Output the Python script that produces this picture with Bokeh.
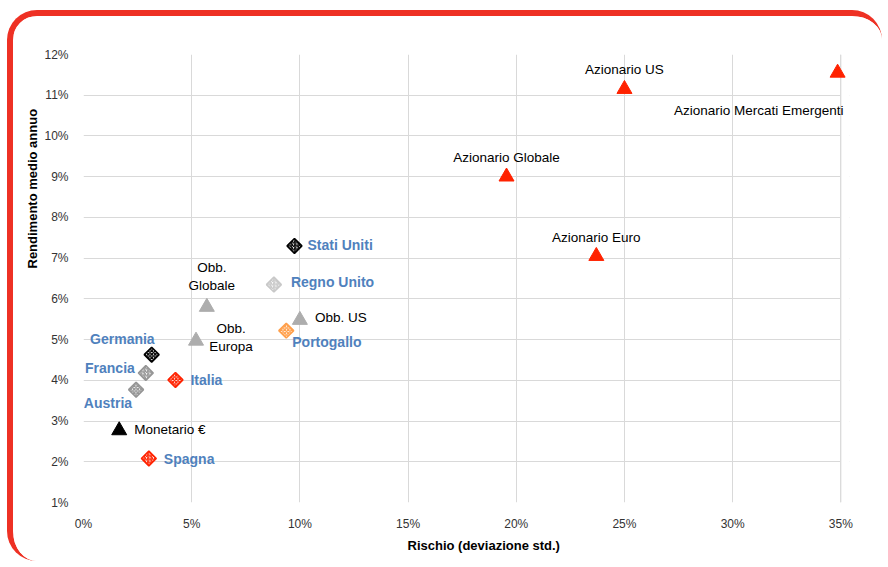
import math
from bokeh.plotting import figure
from bokeh.models import (ColumnDataSource, FixedTicker, PrintfTickFormatter, Range1d, Title,
                          BoxAnnotation, Span)
from bokeh.core.properties import value
from bokeh.embed import file_html
from bokeh.resources import INLINE

# --- data ---
asset_names = ["Azionario US", "Azionario Mercati Emergenti", "Azionario Globale", "Azionario Euro",
               "Obb.\nGlobale", "Obb.\nEuropa", "Obb. US", "Monetario €"]
asset_risk = [25.0, 34.85, 19.55, 23.7, 5.7, 5.2, 10.0, 1.65]
asset_return = [11.15, 11.55, 9.0, 7.05, 5.8, 4.97, 5.48, 2.77]

country_names = ["Stati Uniti", "Regno Unito", "Germania", "Francia", "Austria", "Italia", "Portogallo", "Spagna"]
country_risk = [9.75, 8.8, 3.15, 2.88, 2.43, 4.25, 9.37, 3.02]
country_return = [7.3, 6.35, 4.63, 4.18, 3.77, 4.01, 5.22, 2.08]

x_ticks = [0, 5, 10, 15, 20, 25, 30, 35]
y_ticks = [1, 2, 3, 4, 5, 6, 7, 8, 9, 10, 11, 12]
x_max = 35
x_title = "Rischio (deviazione std.)"
y_title = "Rendimento medio annuo"

# --- styles ---
RED = "#FF2200"
GRID = "#D9D9D9"
asset_colors = [RED, RED, RED, RED, "#ADADAD", "#ADADAD", "#ADADAD", "#000000"]
asset_align = ["center", "right", "center", "center", "center", "center", "left", "left"]
asset_dx = [0, 6, 0, 0, 5, 35, 15, 15]
asset_dy = [-20, 38, -19, -19, -31, -3, -3, -1]

country_colors = ["#000000", "#C8C8C8", "#000000", "#959595", "#959595", RED, "#FF9F4A", RED]
country_hatch = ["right_diagonal_line", "right_diagonal_line", "diagonal_cross", "right_diagonal_line",
                 "diagonal_cross", "diagonal_cross", "diagonal_cross", "right_diagonal_line"]
country_align = ["left", "left", "right", "right", "right", "left", "left", "left"]
country_dx = [13, 17, 3, -11, -4, 15, 6, 15]
country_dy = [-1, -3, -16, -5, 13, 0, 11, 0]

asset_src = ColumnDataSource(dict(x=asset_risk, y=asset_return, name=asset_names, color=asset_colors,
                                  align=asset_align, dx=asset_dx, dy=asset_dy))
country_src = ColumnDataSource(dict(x=country_risk, y=country_return, name=country_names, color=country_colors,
                                    hatch=country_hatch, align=country_align, dx=country_dx, dy=country_dy))

# the frame runs a little past 35% so that the last marker and label are not cut;
# that strip is blanked so the visible grid still ends at 35%
W, H = 875, 551
p = figure(width=W, height=H, output_backend="svg", toolbar_location=None,
           x_range=Range1d(0, 35.4), y_range=Range1d(1, 12),
           min_border_left=70, min_border_right=39, min_border_top=38, min_border_bottom=65)
p.styles = {"margin-left": "7px", "margin-top": "10px",
            "border-top": "6px solid #EE3124", "border-left": "6px solid #EE3124",
            "border-right": "0px solid #EE3124", "border-bottom": "0px solid #EE3124",
            "border-radius": "30px", "overflow": "hidden"}
p.background_fill_color = "white"
p.border_fill_color = "white"
p.outline_line_color = None

p.xaxis.ticker = FixedTicker(ticks=x_ticks)
p.yaxis.ticker = FixedTicker(ticks=y_ticks)
p.xaxis.formatter = PrintfTickFormatter(format="%d%%")
p.yaxis.formatter = PrintfTickFormatter(format="%d%%")
for ax in (p.xaxis, p.yaxis):
    ax.axis_line_color = None
    ax.major_tick_line_color = None
    ax.minor_tick_line_color = None
    ax.major_label_text_font = "Liberation Sans"
    ax.major_label_text_font_size = "12px"
    ax.major_label_text_color = "#333333"
p.xaxis.major_label_standoff = 8
p.yaxis.major_label_standoff = 9

p.grid.grid_line_color = GRID
p.grid.grid_line_width = 1

p.add_layout(BoxAnnotation(left=x_max, fill_color="white", fill_alpha=1, line_color=None,
                           level="underlay", editable=False))
p.add_layout(Span(location=x_max, dimension="height", line_color=GRID, line_width=1, level="underlay"))

# axis titles (off-centre, as in the reference)
p.add_layout(Title(text=x_title, align="left", offset=324, text_font="Liberation Sans",
                   text_font_size="13px", text_font_style="bold", text_color="#000000", standoff=4), "below")
p.add_layout(Title(text=y_title, align="left", offset=234, text_font="Liberation Sans",
                   text_font_size="13px", text_font_style="bold", text_color="#000000", standoff=4), "left")

p.scatter("x", "y", source=asset_src, marker="triangle", size=15, fill_color="color", line_color="color")
p.scatter("x", "y", source=country_src, marker="square", angle=math.pi / 4, size=10.5, fill_color="white",
          line_color="color", line_width=1.6, hatch_pattern="hatch", hatch_color="color",
          hatch_scale=3.5, hatch_weight=1.4)

p.text("x", "y", text="name", source=asset_src, x_offset="dx", y_offset="dy", text_align="align",
       text_baseline="middle", text_font=value("Liberation Sans"), text_font_size="13.5px",
       text_color="#000000", text_line_height=1.2)
p.text("x", "y", text="name", source=country_src, x_offset="dx", y_offset="dy", text_align="align",
       text_baseline="middle", text_font=value("Liberation Sans"), text_font_size="14px",
       text_font_style="bold", text_color="#4F81BD")

open("out.html", "w").write(file_html(p, INLINE))
